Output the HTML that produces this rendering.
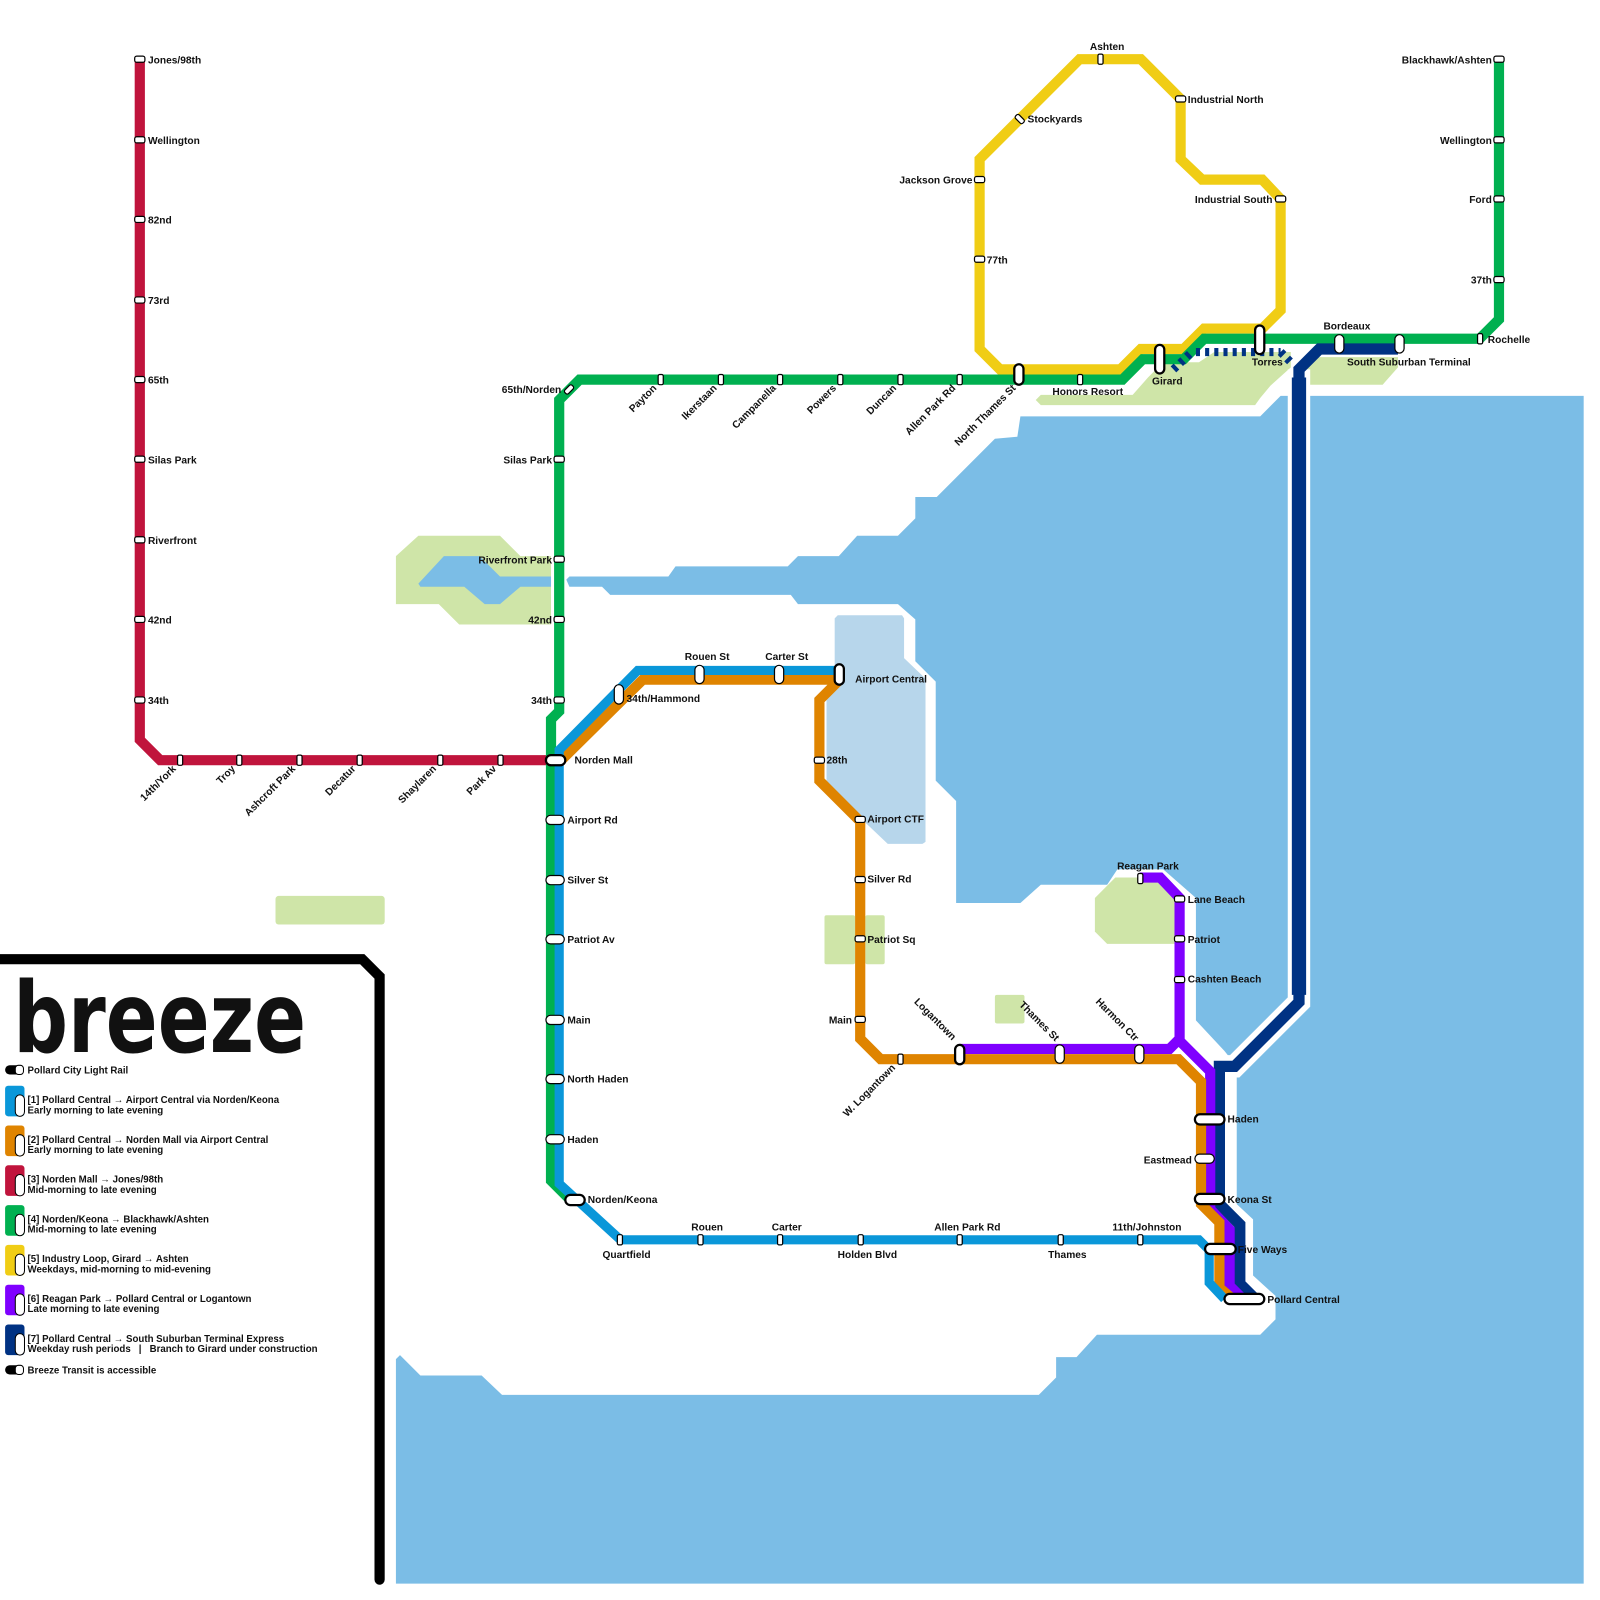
<!DOCTYPE html>
<html><head><meta charset="utf-8"><style>
html,body{margin:0;padding:0;background:#fff;}
svg{display:block;}
text{font-family:"Liberation Sans",sans-serif;font-weight:bold;font-size:10px;fill:#111;}
.lg{font-size:9.5px;}
</style></head><body>
<svg width="1600" height="1600" viewBox="0 0 1568 1568" xmlns="http://www.w3.org/2000/svg">
<rect width="1568" height="1568" fill="#fff"/>
<!-- parks -->
<g fill="#cfe5a8">
<polygon points="388,545 410,525 490,525 510,545 540,545 540,612 450,612 430,592 388,592"/>
<rect x="270" y="878" width="107" height="28" rx="3"/>
<rect x="808" y="897" width="30" height="48" rx="2"/>
<rect x="848" y="897" width="19" height="48" rx="2"/>
<rect x="975" y="975" width="29" height="28" rx="2"/>
<polygon points="1073,880 1093,860 1140,860 1152,872 1152,925 1085,925 1073,913"/>
<polygon points="1015,392 1020,387 1110,387 1125,370 1140,355 1175,355 1190,345 1265,345 1265,360 1245,378 1235,390 1230,397 1020,397"/>
<polygon points="1280,350 1370,350 1370,360 1355,377 1280,377"/>
</g>
<!-- water -->
<g fill="#7bbde6">
<polygon points="1000,408 1235,408 1255,388 1268,388 1268,360 1280,360 1280,388 1552,388 1552,1552 388,1552 388,1332 392,1328 412,1348 472,1348 492,1367 1018,1367 1035,1350 1035,1330 1055,1330 1075,1308 1235,1308 1250,1293 1250,1270 1228,1250 1228,1195 1212,1180 1212,1045 1200,1030 1172,1000 1172,880 1140,852 1095,852 1085,867 1020,867 1000,885 937,885 937,785 917,765 917,668 897,648 897,607 880,592 782,592 775,583 598,583 590,575 558,575 555,568 558,565 655,565 662,555 772,555 782,545 822,545 840,525 880,525 897,508 897,487 918,487 975,430 997,428"/>
<polygon points="410,572 435,545 470,545 490,565 540,565 540,575 510,575 490,592 475,592 455,575 412,575"/>
</g>
<polygon fill="#b7d6eb" points="818,606 821,603 884,603 886,606 886,645 907,665 907,825 904,827 870,827 810,770 810,680 818,670"/>
<!-- lines -->
<g fill="none" stroke-linejoin="miter">
<path d="M1273,362 V982 L1210,1045 H1195" stroke="#fff" stroke-width="22"/>
<path d="M137,58 V725 L157,745 H545" stroke="#c0143c" stroke-width="10"/>
<path d="M960,342 V156 L1058,58 H1118 L1157,97 V156 L1178,176 H1237 L1255,195 V304 L1237,322 H1180 L1160,342 H1118 L1098,362 H980 Z" stroke="#f0cd15" stroke-width="10"/>
<path d="M1469,58 V313 L1450,332 H1180 L1160,352 H1120 L1100,372 H568 L548,392 V697 L540,705 V1157 L560,1177" stroke="#00b050" stroke-width="10"/>
<path d="M1172,345 H1255" stroke="#003283" stroke-width="8" stroke-dasharray="4,5"/>
<path d="M1150,362 L1168,345 M1255,345 L1265,355" stroke="#003283" stroke-width="8" stroke-dasharray="4,5"/>
<path d="M1370,342 H1293 L1273,362 V982 L1210,1045 H1195 V1180 L1215,1200 V1258 L1230,1273" stroke="#003283" stroke-width="11"/>
<path d="M1273,370 V975" stroke="#003283" stroke-width="14"/>
<path d="M1117,860 H1137 L1156,880 V1018 L1146,1028 H940 M1156,1020 L1186,1050 V1185 L1205,1205 V1260 L1218,1273" stroke="#7f00ff" stroke-width="10"/>
<path d="M823,666 L803,686 V765 L843,805 V1018 L863,1038 H1155 L1177,1060 V1180 L1195,1198 V1262 L1208,1273 M550,745 L630,666 H823" stroke="#df8400" stroke-width="10"/>
<path d="M823,657 H625 L548,735 V1160 L608,1215 H1175 L1185,1225 V1257 L1200,1273 M548,745 V1160" stroke="#0a97d9" stroke-width="9"/>
</g>
<!-- stations -->
<g fill="#fff" stroke="#000" stroke-width="1.2">
<!-- red vertical -->
<rect x="132" y="55" width="10" height="6" rx="2"/><rect x="132" y="134" width="10" height="6" rx="2"/><rect x="132" y="212" width="10" height="6" rx="2"/><rect x="132" y="291" width="10" height="6" rx="2"/><rect x="132" y="369" width="10" height="6" rx="2"/><rect x="132" y="447" width="10" height="6" rx="2"/><rect x="132" y="526" width="10" height="6" rx="2"/><rect x="132" y="604" width="10" height="6" rx="2"/><rect x="132" y="683" width="10" height="6" rx="2"/>
<!-- red horizontal -->
<rect x="174" y="740" width="5" height="10" rx="1.5"/><rect x="232" y="740" width="5" height="10" rx="1.5"/><rect x="291" y="740" width="5" height="10" rx="1.5"/><rect x="350" y="740" width="5" height="10" rx="1.5"/><rect x="429" y="740" width="5" height="10" rx="1.5"/><rect x="488" y="740" width="5" height="10" rx="1.5"/>
<!-- green vertical left -->
<rect x="543" y="447" width="10" height="6" rx="2"/><rect x="543" y="545" width="10" height="6" rx="2"/><rect x="543" y="604" width="10" height="6" rx="2"/><rect x="543" y="683" width="10" height="6" rx="2"/>
<rect x="553" y="379" width="10" height="5" rx="2" transform="rotate(-45 558 382)"/>
<!-- green top -->
<rect x="645" y="367" width="5" height="10" rx="1.5"/><rect x="704" y="367" width="5" height="10" rx="1.5"/><rect x="762" y="367" width="5" height="10" rx="1.5"/><rect x="821" y="367" width="5" height="10" rx="1.5"/><rect x="880" y="367" width="5" height="10" rx="1.5"/><rect x="938" y="367" width="5" height="10" rx="1.5"/><rect x="1056" y="367" width="5" height="10" rx="1.5"/><rect x="1448" y="327" width="5" height="10" rx="1.5"/>
<!-- green right -->
<rect x="1464" y="55" width="10" height="6" rx="2"/><rect x="1464" y="134" width="10" height="6" rx="2"/><rect x="1464" y="192" width="10" height="6" rx="2"/><rect x="1464" y="271" width="10" height="6" rx="2"/>
<!-- yellow -->
<rect x="1076" y="53" width="5" height="10" rx="1.5"/><rect x="1152" y="94" width="10" height="6" rx="2"/><rect x="955" y="173" width="10" height="6" rx="2"/><rect x="955" y="251" width="10" height="6" rx="2"/><rect x="1250" y="192" width="10" height="6" rx="2"/>
<rect x="994" y="114" width="10" height="5" rx="2" transform="rotate(45 999 117)"/>
<!-- orange -->
<rect x="798" y="742" width="10" height="6" rx="2"/><rect x="838" y="800" width="10" height="6" rx="2"/><rect x="838" y="859" width="10" height="6" rx="2"/><rect x="838" y="917" width="10" height="6" rx="2"/><rect x="838" y="996" width="10" height="6" rx="2"/><rect x="880" y="1033" width="5" height="10" rx="1.5"/>
<!-- purple -->
<rect x="1115" y="856" width="5" height="10" rx="1.5"/><rect x="1151" y="878" width="10" height="6" rx="2"/><rect x="1151" y="917" width="10" height="6" rx="2"/><rect x="1151" y="957" width="10" height="6" rx="2"/>
<!-- blue bottom -->
<rect x="605" y="1210" width="5" height="10" rx="1.5"/><rect x="684" y="1210" width="5" height="10" rx="1.5"/><rect x="762" y="1210" width="5" height="10" rx="1.5"/><rect x="841" y="1210" width="5" height="10" rx="1.5"/><rect x="938" y="1210" width="5" height="10" rx="1.5"/><rect x="1037" y="1210" width="5" height="10" rx="1.5"/><rect x="1115" y="1210" width="5" height="10" rx="1.5"/>
<!-- pills -->
<rect x="535" y="803" width="18" height="9" rx="4.5" transform="translate(0,-4)"/>
<rect x="535" y="858" width="18" height="9" rx="4.5"/><rect x="535" y="916" width="18" height="9" rx="4.5"/><rect x="535" y="995" width="18" height="9" rx="4.5"/><rect x="535" y="1053" width="18" height="9" rx="4.5"/><rect x="535" y="1112" width="18" height="9" rx="4.5"/>
<rect x="602" y="671" width="9" height="19" rx="4.5"/><rect x="681" y="652" width="9" height="18" rx="4.5"/><rect x="759" y="652" width="9" height="18" rx="4.5"/>
<rect x="1308" y="328" width="9" height="18" rx="4.5"/><rect x="1367" y="328" width="9" height="18" rx="4.5"/>
<rect x="1034" y="1024" width="9" height="18" rx="4.5"/><rect x="1112" y="1024" width="9" height="18" rx="4.5"/>
<rect x="1171" y="1131" width="19" height="9" rx="4.5"/>
</g>
<g fill="#fff" stroke="#000" stroke-width="2.2">
<rect x="535" y="740" width="19" height="10" rx="5"/>
<rect x="554" y="1171" width="19" height="10" rx="5"/>
<rect x="818" y="651" width="9" height="20" rx="4.5"/>
<rect x="994" y="357" width="9" height="20" rx="4.5"/>
<rect x="1132" y="338" width="9" height="28" rx="4.5"/>
<rect x="1230" y="319" width="9" height="28" rx="4.5"/>
<rect x="936" y="1024" width="9" height="19" rx="4.5"/>
<rect x="1171" y="1092" width="29" height="10" rx="5"/>
<rect x="1171" y="1170" width="29" height="10" rx="5"/>
<rect x="1181" y="1219" width="30" height="10" rx="5"/>
<rect x="1200" y="1268" width="39" height="10" rx="5"/>
</g>
<!-- labels -->
<g>
<text x="145" y="62">Jones/98th</text><text x="145" y="141">Wellington</text><text x="145" y="219">82nd</text><text x="145" y="298">73rd</text><text x="145" y="376">65th</text><text x="145" y="454">Silas Park</text><text x="145" y="533">Riverfront</text><text x="145" y="611">42nd</text><text x="145" y="690">34th</text>
<g text-anchor="end">
<text transform="translate(173,754) rotate(-45)">14th/York</text>
<text transform="translate(231,754) rotate(-45)">Troy</text>
<text transform="translate(290,754) rotate(-45)">Ashcroft Park</text>
<text transform="translate(349,754) rotate(-45)">Decatur</text>
<text transform="translate(428,754) rotate(-45)">Shaylaren</text>
<text transform="translate(487,754) rotate(-45)">Park Av</text>
<text transform="translate(644,381) rotate(-45)">Payton</text>
<text transform="translate(703,381) rotate(-45)">Ikerstaan</text>
<text transform="translate(761,381) rotate(-45)">Campanella</text>
<text transform="translate(820,381) rotate(-45)">Powers</text>
<text transform="translate(879,381) rotate(-45)">Duncan</text>
<text transform="translate(937,381) rotate(-45)">Allen Park Rd</text>
<text transform="translate(996,381) rotate(-45)">North Thames St</text>
<text transform="translate(878,1047) rotate(-45)">W. Logantown</text>
<text transform="translate(933,1020) rotate(45)">Logantown</text>
<text transform="translate(1034,1021) rotate(45)">Thames St</text>
<text transform="translate(1112,1021) rotate(45)">Harmon Ctr</text>
<text x="550" y="385">65th/Norden</text><text x="541" y="454">Silas Park</text><text x="541" y="552">Riverfront Park</text><text x="541" y="611">42nd</text><text x="541" y="690">34th</text>
<text x="1462" y="62">Blackhawk/Ashten</text><text x="1462" y="141">Wellington</text><text x="1462" y="199">Ford</text><text x="1462" y="278">37th</text>
<text x="953" y="180">Jackson Grove</text><text x="1247" y="199">Industrial South</text>
<text x="835" y="1003">Main</text><text x="1168" y="1140">Eastmead</text>
</g>
<text x="563" y="748">Norden Mall</text>
<text x="556" y="807">Airport Rd</text><text x="556" y="866">Silver St</text><text x="556" y="924">Patriot Av</text><text x="556" y="1003">Main</text><text x="556" y="1061">North Haden</text><text x="556" y="1120">Haden</text>
<text x="576" y="1179">Norden/Keona</text>
<g text-anchor="middle">
<text x="614" y="1233">Quartfield</text><text x="693" y="1206">Rouen</text><text x="771" y="1206">Carter</text><text x="850" y="1233">Holden Blvd</text><text x="948" y="1206">Allen Park Rd</text><text x="1046" y="1233">Thames</text><text x="1124" y="1206">11th/Johnston</text>
<text x="693" y="647">Rouen St</text><text x="771" y="647">Carter St</text>
<text x="1066" y="387">Honors Resort</text><text x="1144" y="377">Girard</text><text x="1242" y="358">Torres</text><text x="1320" y="323">Bordeaux</text><text x="1085" y="49">Ashten</text><text x="1125" y="852">Reagan Park</text>
</g>
<text x="1320" y="358">South Suburban Terminal</text>
<text x="1458" y="336">Rochelle</text>
<text x="1164" y="101">Industrial North</text><text x="1007" y="120">Stockyards</text><text x="967" y="258">77th</text>
<text x="614" y="688">34th/Hammond</text><text x="838" y="669">Airport Central</text>
<text x="810" y="748">28th</text><text x="850" y="806">Airport CTF</text><text x="850" y="865">Silver Rd</text><text x="850" y="924">Patriot Sq</text>
<text x="1164" y="885">Lane Beach</text><text x="1164" y="924">Patriot</text><text x="1164" y="963">Cashten Beach</text>
<text x="1203" y="1100">Haden</text><text x="1203" y="1179">Keona St</text><text x="1213" y="1228">Five Ways</text><text x="1242" y="1277">Pollard Central</text>
</g>
<!-- legend frame -->
<path d="M-10,940 H355 L372,957 V1548" fill="none" stroke="#000" stroke-width="10" stroke-linecap="round"/>
<text x="13" y="1031" style="font-family:'DejaVu Sans','Liberation Sans',sans-serif;font-weight:bold;font-size:96px" textLength="287" lengthAdjust="spacingAndGlyphs">breeze</text>
<!-- legend items -->
<g>
<rect x="5" y="1044" width="18" height="9" rx="4.5" fill="#000"/><rect x="15" y="1044" width="8" height="9" rx="3" fill="#fff" stroke="#000" stroke-width="1"/>
<text class="lg" x="27" y="1052">Pollard City Light Rail</text>
<g>
<rect x="5" y="1064" width="19" height="30" rx="3" fill="#0a97d9"/><rect x="15" y="1073" width="9" height="21" rx="4.5" fill="#fff" stroke="#000"/>
<text class="lg" x="27" y="1081">[1] Pollard Central → Airport Central via Norden/Keona</text><text class="lg" x="27" y="1091">Early morning to late evening</text>
<rect x="5" y="1103" width="19" height="30" rx="3" fill="#df8400"/><rect x="15" y="1112" width="9" height="21" rx="4.5" fill="#fff" stroke="#000"/>
<text class="lg" x="27" y="1120">[2] Pollard Central → Norden Mall via Airport Central</text><text class="lg" x="27" y="1130">Early morning to late evening</text>
<rect x="5" y="1142" width="19" height="30" rx="3" fill="#c0143c"/><rect x="15" y="1151" width="9" height="21" rx="4.5" fill="#fff" stroke="#000"/>
<text class="lg" x="27" y="1159">[3] Norden Mall → Jones/98th</text><text class="lg" x="27" y="1169">Mid-morning to late evening</text>
<rect x="5" y="1181" width="19" height="30" rx="3" fill="#00b050"/><rect x="15" y="1190" width="9" height="21" rx="4.5" fill="#fff" stroke="#000"/>
<text class="lg" x="27" y="1198">[4] Norden/Keona → Blackhawk/Ashten</text><text class="lg" x="27" y="1208">Mid-morning to late evening</text>
<rect x="5" y="1220" width="19" height="30" rx="3" fill="#f0cd15"/><rect x="15" y="1229" width="9" height="21" rx="4.5" fill="#fff" stroke="#000"/>
<text class="lg" x="27" y="1237">[5] Industry Loop, Girard → Ashten</text><text class="lg" x="27" y="1247">Weekdays, mid-morning to mid-evening</text>
<rect x="5" y="1259" width="19" height="30" rx="3" fill="#7f00ff"/><rect x="15" y="1268" width="9" height="21" rx="4.5" fill="#fff" stroke="#000"/>
<text class="lg" x="27" y="1276">[6] Reagan Park → Pollard Central or Logantown</text><text class="lg" x="27" y="1286">Late morning to late evening</text>
<rect x="5" y="1298" width="19" height="30" rx="3" fill="#003283"/><rect x="15" y="1307" width="9" height="21" rx="4.5" fill="#fff" stroke="#000"/>
<text class="lg" x="27" y="1315">[7] Pollard Central → South Suburban Terminal Express</text><text class="lg" x="27" y="1325" xml:space="preserve">Weekday rush periods   |   Branch to Girard under construction</text>
</g>
<rect x="5" y="1338" width="18" height="9" rx="4.5" fill="#000"/><rect x="15" y="1338" width="8" height="9" rx="3" fill="#fff" stroke="#000" stroke-width="1"/>
<text class="lg" x="27" y="1346">Breeze Transit is accessible</text>
</g>
</svg>
</body></html>
